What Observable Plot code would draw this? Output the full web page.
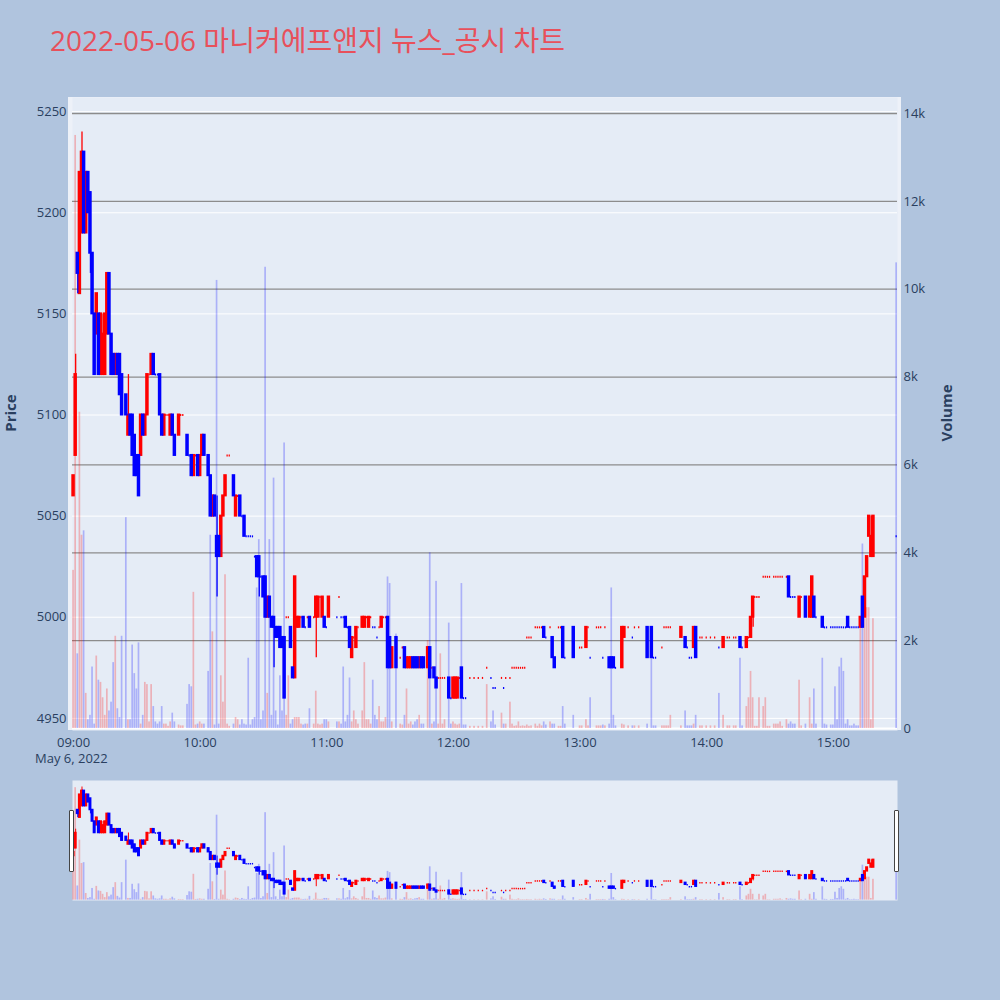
<!DOCTYPE html>
<html>
<head>
<meta charset="utf-8">
<script src="https://cdn.jsdelivr.net/npm/d3@7"></script>
<script src="https://cdn.jsdelivr.net/npm/@observablehq/plot@0.6"></script>
<style>
html,body{margin:0;padding:0;background:#b0c4de;}
#page{position:relative;width:1000px;height:1000px;background:#b0c4de;overflow:hidden;font-family:"Open Sans","Noto Sans CJK KR",sans-serif;color:#2a3f5f;}
.layer{position:absolute;left:0;}
.layer svg{display:block;overflow:visible;}
#title{position:absolute;left:50px;top:19px;font-size:28px;color:#e8505b;white-space:nowrap;font-family:"Open Sans","Noto Sans CJK KR",sans-serif;}
.ylab{position:absolute;font-size:15px;font-weight:bold;color:#2a3f5f;transform:translate(-50%,-50%) rotate(-90deg);white-space:nowrap;}
#date{position:absolute;left:35px;top:749px;font-size:13px;white-space:nowrap;color:#2a3f5f;}
#strip{position:absolute;left:68px;top:97px;width:833px;height:633px;background:#edf1f8;}
.handle{position:absolute;top:810px;width:3px;height:60px;background:#fff;border:1px solid #444;border-radius:1px;}
</style>
</head>
<body>
<div id="page">
  <div id="title">2022-05-06 마니커에프앤지 뉴스_공시 차트</div>
  <div id="strip"></div>
  <div class="layer" id="base" style="top:0"></div>
  <div class="layer" id="vol" style="top:0"></div>
  <div class="layer" id="price" style="top:0"></div>
  <div class="layer" id="sliderVol" style="top:780px"></div>
  <div class="layer" id="sliderPrice" style="top:780px"></div>
  <div class="handle" style="left:69px"></div>
  <div class="handle" style="left:894px"></div>
  <div class="ylab" style="left:10px;top:413px">Price</div>
  <div class="ylab" style="left:946px;top:413px">Volume</div>
  <div id="date">May 6, 2022</div>
</div>
<script>
// ---- data: minutes after 09:00, OHLC, volume ----
const minute = [
0,1,2,3,4,5,6,7,8,9,
10,11,12,13,14,15,16,17,18,19,
20,21,22,23,25,26,27,28,29,30,
31,32,33,34,35,36,37,38,39,40,
41,42,43,44,45,46,47,48,50,51,
52,54,55,56,57,58,59,60,61,62,
64,65,66,67,68,69,70,71,72,73,
74,76,77,78,79,80,81,82,83,84,
85,86,87,88,89,90,91,92,93,94,
95,96,97,98,99,100,101,102,103,104,
105,106,107,108,109,110,111,112,114,115,
116,117,118,119,120,121,125,126,127,128,
129,130,131,132,133,134,135,137,138,139,
140,141,142,143,144,145,146,147,148,149,
150,151,153,155,156,157,158,159,160,161,
162,163,164,165,166,168,169,170,171,172,
173,174,175,176,178,179,180,181,182,183,
184,185,186,188,190,192,194,196,198,199,
200,203,204,205,207,208,209,210,211,212,
213,214,215,216,217,219,220,221,222,223,
224,226,227,228,230,231,232,233,237,240,
241,243,244,245,248,249,250,251,252,254,
255,256,257,260,261,263,265,266,268,272,
274,275,276,279,280,281,282,283,288,290,
291,292,293,294,295,297,298,300,302,304,
306,308,310,311,313,314,316,317,319,320,
321,322,323,324,325,327,328,329,330,332,
333,334,335,336,338,339,340,341,342,344,
345,347,349,350,351,352,355,356,357,359,
360,361,362,363,364,365,366,367,368,369,
370,371,372,373,374,375,376,377,378,379,390];

const open = [
5060,5080,5180,5160,5190,5230,5190,5220,5210,5180,
5150,5140,5150,5120,5120,5120,5140,5170,5140,5130,
5120,5130,5130,5120,5110,5090,5100,5100,5090,5080,
5080,5080,5100,5090,5100,5120,5120,5130,5120,5120,
5120,5100,5090,5100,5100,5090,5100,5090,5090,5100,
5100,5090,5080,5080,5070,5080,5080,5070,5080,5090,
5080,5070,5050,5060,5040,5040,5030,5050,5060,5080,
5080,5070,5050,5060,5060,5050,5050,5040,5040,5040,
5040,5030,5030,5030,5020,5020,5020,5000,5010,5000,
5000,4995,4995,4995,4990,4990,5000,5000,4995,4975,
4970,4995,4995,5000,5000,4995,5000,5000,5000,5000,
5000,5010,5000,5000,4995,5000,5000,5010,5000,5000,
5000,4995,4995,4980,4990,4985,4995,4995,4995,5000,
4995,5000,4995,4995,4990,4995,4995,5000,5000,5000,
4990,4975,4990,4980,4985,4985,4975,4975,4975,4980,
4980,4980,4975,4980,4980,4975,4985,4975,4975,4970,
4970,4970,4970,4970,4970,4960,4960,4960,4960,4970,
4975,4960,4960,4970,4970,4970,4970,4975,4970,4965,
4965,4970,4965,4970,4970,4975,4975,4975,4975,4975,
4975,4975,4990,4990,4990,4995,4995,4995,4995,4995,
4990,4995,4990,4980,4995,4995,4995,4980,4995,4985,
4985,4985,4995,4980,4995,4995,4995,4980,4995,4980,
4980,4980,4975,4975,4990,4995,4990,4995,4995,4995,
4995,4980,4980,4985,4995,4995,4995,4995,4990,4990,
4985,4980,4980,4985,4995,4990,4990,4990,4990,4990,
4985,4985,4990,4990,4990,4990,4990,4985,4985,4990,
4990,5000,5010,5010,5010,5020,5020,5020,5020,5020,
5020,5020,5020,5020,5020,5020,5010,5010,5010,5000,
5010,5010,5000,5000,5010,5000,5000,4995,4995,4995,
4995,4995,4995,4995,4995,4995,4995,5000,4995,4995,
4995,4995,4995,4995,5010,5000,5020,5040,5030,5030,5040];

const high = [
5070,5130,5180,5220,5240,5230,5220,5220,5210,5180,
5150,5160,5150,5150,5150,5150,5170,5170,5140,5130,
5130,5130,5130,5120,5110,5120,5100,5100,5090,5080,
5080,5100,5100,5100,5120,5120,5130,5130,5120,5120,
5120,5100,5100,5100,5100,5100,5100,5090,5100,5100,
5100,5090,5080,5080,5080,5080,5080,5080,5090,5090,
5080,5070,5060,5060,5060,5040,5050,5060,5070,5080,
5080,5070,5060,5060,5060,5050,5050,5040,5040,5040,
5040,5030,5030,5030,5020,5020,5020,5010,5010,5000,
5000,4995,4995,4995,4990,4990,5000,5000,4995,4975,
5020,5000,5000,5000,5000,4995,5000,5000,5000,5010,
5010,5010,5010,5000,4995,5010,5000,5010,5000,5000,
5000,4995,4995,4990,4990,4995,4995,5000,5000,5000,
5000,5000,4995,4995,4990,4995,5000,5000,5000,5000,
4990,4985,4990,4980,4985,4985,4980,4980,4980,4980,
4980,4980,4980,4980,4980,4985,4985,4975,4975,4970,
4970,4970,4970,4970,4970,4960,4970,4970,4970,4970,
4975,4960,4960,4970,4970,4970,4970,4975,4970,4965,
4965,4970,4965,4970,4970,4975,4975,4975,4975,4975,
4975,4975,4990,4990,4990,4995,4995,4995,4995,4995,
4990,4995,4990,4980,4995,4995,4995,4980,4995,4985,
4985,4995,4995,4980,4995,4995,4995,4980,4995,4980,
4980,4980,4975,4995,4995,4995,4990,4995,4995,4995,
4995,4980,4980,4985,4995,4995,4995,4995,4995,4990,
4985,4980,4980,4995,4995,4990,4990,4990,4990,4990,
4985,4990,4990,4990,4990,4990,4990,4985,4990,4990,
5000,5010,5010,5010,5010,5020,5020,5020,5020,5020,
5020,5020,5020,5020,5020,5020,5010,5010,5010,5010,
5010,5010,5010,5020,5010,5000,5000,4995,4995,4995,
4995,4995,4995,4995,4995,4995,4995,5000,4995,4995,
4995,4995,4995,5000,5010,5020,5030,5050,5050,5050,5040];

const low = [
5060,5080,5160,5160,5190,5190,5190,5200,5170,5150,
5120,5140,5120,5120,5120,5120,5140,5140,5120,5120,
5120,5120,5110,5100,5100,5090,5090,5080,5070,5070,
5060,5080,5090,5090,5100,5120,5120,5120,5120,5120,
5100,5090,5090,5100,5100,5090,5090,5080,5090,5100,
5100,5080,5080,5070,5070,5080,5070,5070,5080,5080,
5070,5050,5050,5050,5010,5030,5030,5050,5060,5080,
5080,5060,5050,5060,5050,5050,5040,5040,5040,5040,
5040,5030,5020,5010,5020,5010,5000,5000,5000,4995,
4975,4990,4990,4985,4985,4960,5000,5000,4985,4970,
4970,4995,4995,5000,4995,4995,5000,4995,5000,4980,
5000,5010,5000,4995,4995,5000,5000,5010,5000,5000,
4995,4995,4985,4980,4990,4985,4995,4995,4995,5000,
4995,5000,4995,4995,4990,4995,4995,5000,5000,4975,
4975,4975,4975,4980,4985,4975,4975,4975,4975,4975,
4975,4975,4975,4975,4975,4975,4970,4975,4970,4965,
4970,4970,4970,4970,4960,4960,4960,4960,4960,4970,
4960,4960,4960,4970,4970,4970,4970,4975,4970,4965,
4965,4970,4965,4970,4970,4975,4975,4975,4975,4975,
4975,4975,4990,4990,4990,4995,4995,4995,4995,4990,
4990,4995,4980,4975,4995,4995,4980,4980,4980,4985,
4985,4985,4995,4980,4995,4995,4995,4980,4995,4975,
4975,4975,4975,4975,4990,4995,4990,4995,4995,4980,
4980,4980,4980,4985,4995,4995,4995,4995,4990,4985,
4985,4980,4980,4985,4980,4990,4990,4990,4990,4990,
4985,4985,4990,4990,4990,4990,4985,4985,4985,4990,
4990,4995,5010,5010,5010,5020,5020,5020,5020,5020,
5020,5020,5020,5020,5020,5010,5010,5010,5010,5000,
5010,5000,5000,5000,5000,5000,4995,4995,4995,4995,
4995,4995,4995,4995,4995,4995,4995,4995,4995,4995,
4995,4995,4995,4995,4995,5000,5020,5040,5030,5030,5040];

const close = [
5070,5120,5170,5220,5230,5190,5220,5200,5180,5150,
5120,5160,5120,5150,5140,5150,5170,5140,5120,5120,
5130,5120,5110,5100,5100,5100,5090,5080,5070,5070,
5060,5100,5090,5100,5120,5120,5130,5120,5120,5120,
5100,5090,5100,5100,5100,5100,5090,5080,5100,5100,
5100,5080,5080,5070,5080,5080,5070,5080,5090,5080,
5070,5050,5060,5050,5030,5030,5050,5060,5070,5080,
5080,5060,5060,5060,5050,5050,5040,5040,5040,5040,
5040,5030,5020,5020,5020,5010,5000,5010,5000,4995,
4995,4990,4990,4985,4985,4960,5000,5000,4985,4970,
5020,5000,5000,5000,4995,4995,5000,4995,5000,5010,
5010,5010,5010,4995,4995,5010,5000,5010,5000,5000,
4995,4995,4985,4990,4990,4995,4995,5000,5000,5000,
5000,5000,4995,4995,4990,4995,5000,5000,5000,4975,
4975,4985,4975,4980,4985,4975,4980,4980,4980,4975,
4975,4975,4980,4975,4975,4985,4970,4975,4970,4965,
4970,4970,4970,4970,4960,4960,4970,4970,4970,4970,
4960,4960,4960,4970,4970,4970,4970,4975,4970,4965,
4965,4970,4965,4970,4970,4975,4975,4975,4975,4975,
4975,4975,4990,4990,4990,4995,4995,4995,4995,4990,
4990,4995,4980,4975,4995,4995,4980,4980,4980,4985,
4985,4995,4995,4980,4995,4995,4995,4980,4995,4975,
4975,4975,4975,4995,4995,4995,4990,4995,4995,4980,
4980,4980,4980,4985,4995,4995,4995,4995,4995,4985,
4985,4980,4980,4995,4980,4990,4990,4990,4990,4990,
4985,4990,4990,4990,4990,4990,4985,4985,4990,4990,
5000,5010,5010,5010,5010,5020,5020,5020,5020,5020,
5020,5020,5020,5020,5020,5010,5010,5010,5010,5010,
5010,5000,5010,5020,5000,5000,4995,4995,4995,4995,
4995,4995,4995,4995,4995,4995,4995,4995,4995,4995,
4995,4995,4995,5000,4995,5020,5030,5050,5040,5050,5040];

const volume = [
3600,13500,1700,7200,4400,4500,800,200,300,1400,
100,1650,1100,1050,700,300,900,400,600,1500,
2100,450,250,2100,4800,200,200,1900,1250,900,
1950,100,300,1050,1000,150,1000,500,150,100,
150,500,100,100,50,150,350,150,80,60,
60,550,1000,950,3100,80,100,150,100,100,
1300,4400,2200,80,10200,100,1200,600,3500,100,
50,100,250,200,80,200,100,80,1600,80,
200,250,3200,4300,200,400,10500,800,4300,300,
5700,400,80,1200,400,6500,300,1200,100,200,
250,250,250,100,80,100,100,450,100,850,
100,80,100,200,200,150,150,150,100,1400,
150,300,1150,150,400,200,100,400,1500,200,
200,100,1100,300,200,500,150,150,250,3450,
3300,150,2150,100,80,300,900,100,150,80,
150,200,300,100,100,2000,4000,100,150,3350,
100,1700,100,200,2400,100,150,100,80,100,
3300,80,80,50,50,50,50,1000,150,400,
80,350,100,100,600,100,50,60,150,50,
60,50,80,50,60,100,50,100,60,150,
80,150,100,100,50,50,500,100,300,60,
60,200,60,700,60,60,60,80,60,100,
3200,300,60,100,80,60,60,60,60,100,
1600,60,60,60,60,60,60,300,60,400,
60,60,60,100,300,60,60,60,60,60,
800,300,60,60,60,60,1600,60,500,700,
1300,700,50,50,700,500,700,50,50,100,
100,100,150,50,200,100,150,100,100,1100,
60,100,700,100,900,100,1600,100,80,80,
80,950,200,1400,1600,1300,100,200,60,60,
100,60,60,2500,4200,2500,2750,2750,200,2500,10600];

const hourTicks = [0, 60, 120, 180, 240, 300, 360];
const hourLabels = ["09:00", "10:00", "11:00", "12:00", "13:00", "14:00", "15:00"];
const priceTicks = [4950, 5000, 5050, 5100, 5150, 5200, 5250];
const volumeTicks = [0, 2000, 4000, 6000, 8000, 10000, 12000, 14000];

// ---- build table ----
const rows = minute.map((t, i) => ({t, o: open[i], h: high[i], l: low[i], c: close[i], v: volume[i]}));
let prevC = null, prevDir = 1;
for (const d of rows) {
  let dir;
  if (d.c > d.o) dir = 1;
  else if (d.c < d.o) dir = -1;
  else if (prevC !== null && d.c !== prevC) dir = d.c > prevC ? 1 : -1;
  else dir = prevDir;
  d.dir = dir; prevC = d.c; prevDir = dir;
}
const up = rows.filter(d => d.dir > 0), down = rows.filter(d => d.dir < 0);
const RED = "#ff0000", BLUE = "#0000ff";

const xDomain = [-0.5, 390.4];
const priceDomain = [4944, 5257];
const volDomain = [-45, 14364];
const font = {background: "transparent", fontFamily: "'Open Sans', sans-serif", fontSize: "13px", color: "#2a3f5f", overflow: "visible"};

function candleMarks(bw, sw, ww, dotW, dotHalf) {
  const m = [];
  for (const [set, col] of [[up, RED], [down, BLUE]]) {
    const bodies = set.filter(d => d.o !== d.c), flats = set.filter(d => d.o === d.c);
    m.push(Plot.ruleX(set.filter(d => d.h !== d.l), {x: "t", y1: "l", y2: "h", stroke: col, strokeWidth: ww}));
    m.push(Plot.rect(bodies, {x1: d => d.t - bw, x2: d => d.t + bw, y1: "o", y2: "c", fill: col, stroke: col, strokeWidth: sw}));
    m.push(Plot.ruleY(flats, {y: "c", x1: d => d.t - dotHalf, x2: d => d.t + dotHalf, stroke: col, strokeWidth: dotW}));
  }
  return m;
}
function volMarks(bw, op) {
  return [[up, RED], [down, BLUE]].map(([set, col]) =>
    Plot.rect(set, {x1: d => d.t - bw, x2: d => d.t + bw, y1: 0, y2: "v", fill: col, fillOpacity: op}));
}

// base layer: background, price grid, axes
const base = Plot.plot({
  width: 1000, height: 770, marginLeft: 72, marginRight: 103, marginTop: 97, marginBottom: 40,
  style: font,
  x: {domain: xDomain},
  y: {domain: priceDomain},
  marks: [
    Plot.frame({fill: "#e5ecf6", stroke: null}),
    Plot.gridY(priceTicks, {stroke: "#ffffff", strokeOpacity: 1, strokeWidth: 1}),
    Plot.axisY(priceTicks, {anchor: "left", tickSize: 0, tickPadding: 6, label: null, fontSize: 13,
      tickFormat: d => String(d)}),
    Plot.axisX(hourTicks, {anchor: "bottom", tickSize: 0, tickPadding: 7, label: null, fontSize: 13,
      tickFormat: d => hourLabels[hourTicks.indexOf(d)]})
  ]
});
document.getElementById("base").append(base);

// volume layer
const vol = Plot.plot({
  width: 1000, height: 770, marginLeft: 72, marginRight: 103, marginTop: 97, marginBottom: 40,
  style: font,
  x: {domain: xDomain, axis: null},
  y: {domain: volDomain},
  marks: [
    Plot.gridY(volumeTicks.slice(1), {stroke: "#8c8c8c", strokeOpacity: 1, strokeWidth: 1.3}),
    Plot.ruleY([0], {stroke: "#ffffff", strokeWidth: 2}),
    ...volMarks(0.4, 0.25),
    Plot.axisY(volumeTicks, {anchor: "right", tickSize: 0, tickPadding: 6, label: null, fontSize: 13,
      tickFormat: d => d === 0 ? "0" : (d / 1000) + "k"})
  ]
});
document.getElementById("vol").append(vol);

// candle layer
const price = Plot.plot({
  width: 1000, height: 770, marginLeft: 72, marginRight: 103, marginTop: 97, marginBottom: 40,
  style: font,
  x: {domain: xDomain, axis: null},
  y: {domain: priceDomain, axis: null},
  marks: candleMarks(0.35, 2, 1.3, 2, 0.3)
});
document.getElementById("price").append(price);

// range slider (mini chart)
const sVol = Plot.plot({
  width: 1000, height: 120, marginLeft: 72, marginRight: 103, marginTop: 0, marginBottom: 0,
  style: font,
  x: {domain: xDomain, axis: null},
  y: {domain: volDomain, axis: null},
  marks: [Plot.frame({fill: "#e5ecf6", stroke: null}), ...volMarks(0.4, 0.25)]
});
document.getElementById("sliderVol").append(sVol);
const sPrice = Plot.plot({
  width: 1000, height: 120, marginLeft: 72, marginRight: 103, marginTop: 0, marginBottom: 0,
  style: font,
  x: {domain: xDomain, axis: null},
  y: {domain: priceDomain, axis: null},
  marks: candleMarks(0.35, 1.5, 1, 1.5, 0.3)
});
document.getElementById("sliderPrice").append(sPrice);
</script>
</body>
</html>
